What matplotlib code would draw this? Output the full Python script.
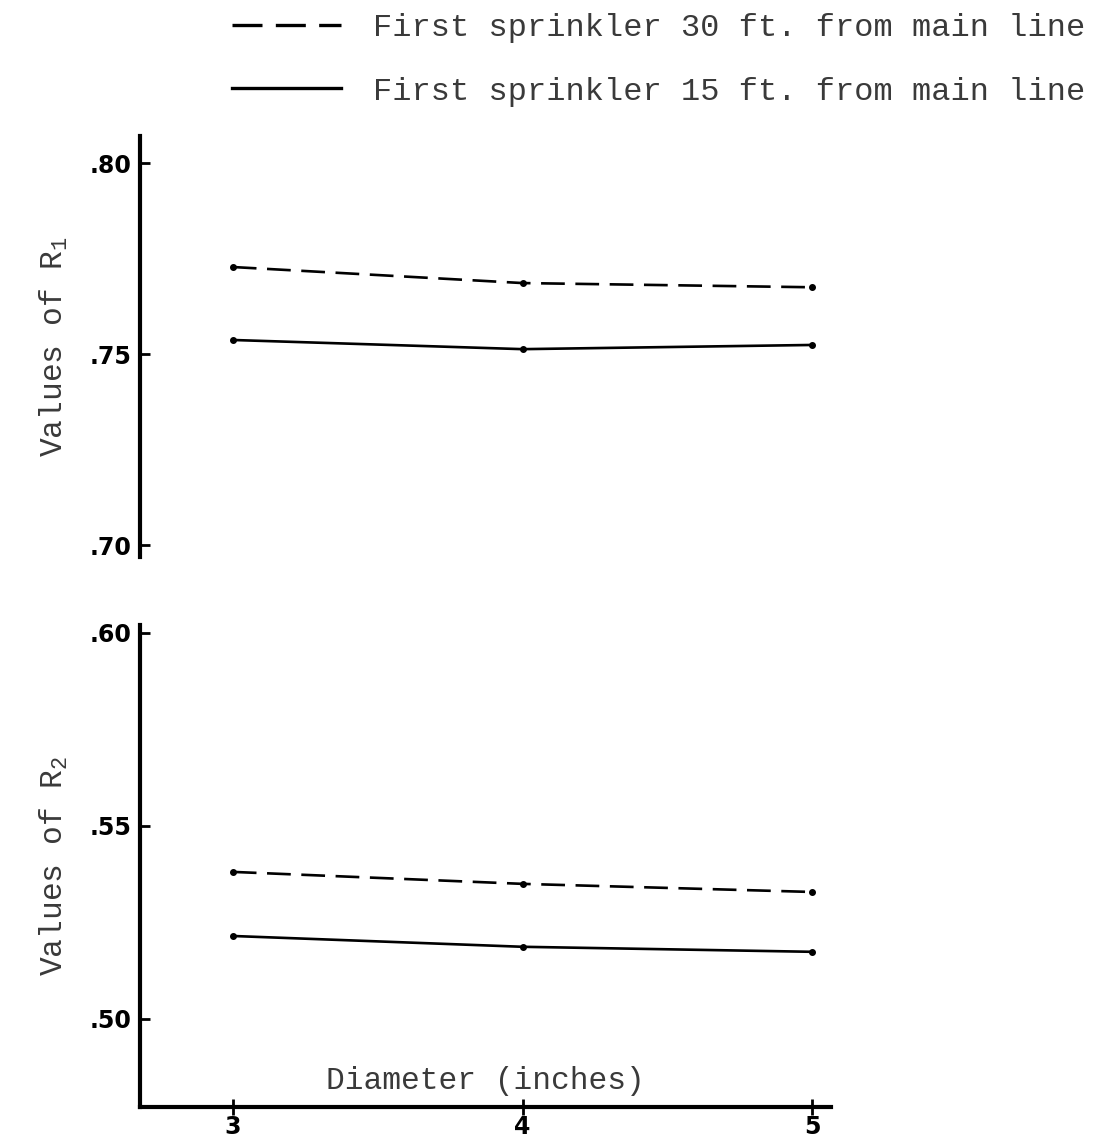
import numpy as np
import matplotlib
matplotlib.use("Agg")
import matplotlib.pyplot as plt
from matplotlib.ticker import FuncFormatter


# ------------------ DATA ------------------ #

diameters = [3, 4, 5]   # inches

r1_30ft = [0.7728, 0.7686, 0.7675]
r1_15ft = [0.7537, 0.7513, 0.7524]

r2_30ft = [0.5381, 0.5350, 0.5329]
r2_15ft = [0.5215, 0.5187, 0.5174]

r1_ticks = [0.70, 0.75, 0.80]
r2_ticks = [0.50, 0.55, 0.60]
x_ticks = [3, 4, 5]

label_30 = "First sprinkler 30 ft. from main line"
label_15 = "First sprinkler 15 ft. from main line"


# ------------------ STYLE ------------------ #

mono = "Liberation Mono"
txt_color = "#3a3a3a"
tick_font = {"family": "DejaVu Sans", "weight": "bold", "size": 17}
lw = 1.9
dash = (9, 4)
spine_w = 3.0


def dec_fmt(v, pos):
    return f"{v:.2f}".lstrip("0")


def style_axis(ax, ticks):
    for s in ["top", "right"]:
        ax.spines[s].set_visible(False)
    ax.spines["left"].set_linewidth(spine_w)
    ax.spines["bottom"].set_linewidth(spine_w)
    ax.set_yticks(ticks)
    ax.yaxis.set_major_formatter(FuncFormatter(dec_fmt))
    ax.tick_params(axis="y", direction="in", length=7, width=2, pad=6)
    for t in ax.get_yticklabels():
        t.set_fontproperties(matplotlib.font_manager.FontProperties(**tick_font))
    ax.set_xlim(2.68, 5.066)


fig = plt.figure(figsize=(10.94, 11.43), dpi=100)

# top panel (R1)
ax1 = fig.add_axes([0.128, 0.5127, 0.632, 0.368])
ax1.plot(diameters, r1_30ft, color="black", lw=lw, dashes=dash,
         marker="o", markersize=4, label=label_30)
ax1.plot(diameters, r1_15ft, color="black", lw=lw,
         marker="o", markersize=4, label=label_15)
ax1.set_ylim(0.6969, 0.807)
style_axis(ax1, r1_ticks)
ax1.spines["bottom"].set_visible(False)
ax1.set_xticks([])
ax1.set_ylabel("Values of R$_\\mathregular{1}$", family=mono, fontsize=22.5, color=txt_color)
ax1.yaxis.set_label_coords(-0.102, 0.5)

# bottom panel (R2)
ax2 = fig.add_axes([0.128, 0.0315, 0.632, 0.4215])
ax2.plot(diameters, r2_30ft, color="black", lw=lw, dashes=dash,
         marker="o", markersize=4)
ax2.plot(diameters, r2_15ft, color="black", lw=lw,
         marker="o", markersize=4)
ax2.set_ylim(0.4772, 0.602)
style_axis(ax2, r2_ticks)
ax2.set_xticks(x_ticks)
ax2.tick_params(axis="x", direction="inout", length=12, width=2, pad=0)
for t in ax2.get_xticklabels():
    t.set_fontproperties(matplotlib.font_manager.FontProperties(**tick_font))
ax2.set_ylabel("Values of R$_\\mathregular{2}$", family=mono, fontsize=22.5, color=txt_color)
ax2.yaxis.set_label_coords(-0.102, 0.5)
ax2.set_xlabel("Diameter (inches)", family=mono, fontsize=22.5, color=txt_color)
ax2.xaxis.set_label_coords(0.5, 0.085)

# legend at the top of the page
leg = ax1.legend(loc="upper left", bbox_to_anchor=(232 / 1094, 1 - 13 / 1143),
                 bbox_transform=fig.transFigure, frameon=False,
                 prop={"family": mono, "size": 23},
                 handlelength=3.4, handletextpad=1.0, labelspacing=1.05,
                 borderpad=0, borderaxespad=0, markerscale=0)
for t in leg.get_texts():
    t.set_color(txt_color)
for h in leg.legend_handles:
    h.set_marker("")
    h.set_linewidth(2.4)

fig.savefig("out.png", dpi=100)
